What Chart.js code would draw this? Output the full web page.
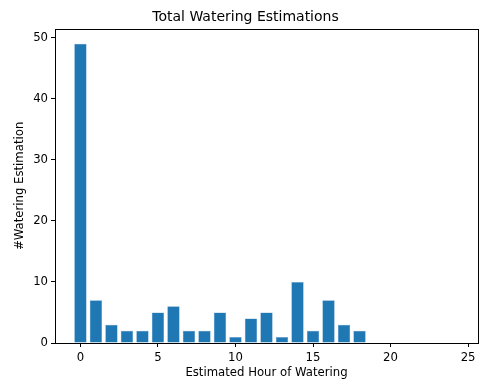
<!DOCTYPE html>
<html>
<head>
<meta charset="utf-8">
<script src="https://cdn.jsdelivr.net/npm/chart.js@4"></script>
<style>
html,body{margin:0;padding:0;background:#fff;}
#wrap{width:484px;height:385px;position:relative;}
</style>
</head>
<body>
<div id="wrap"><canvas id="c" width="484" height="385"></canvas></div>
<script>
const hours = [0,1,2,3,4,5,6,7,8,9,10,11,12,13,14,15,16,17,18,19,20,21,22,23,24];
const counts = [49,7,3,2,2,5,6,2,2,5,1,4,5,1,10,2,7,3,2,0,0,0,0,0,0];
const xTicks = [0,5,10,15,20,25];
const yTicks = [0,10,20,30,40,50];
const titleText = 'Total Watering Estimations';
const xLabel = 'Estimated Hour of Watering';
const yLabel = '#Watering Estimation';

const FONT = 'DejaVu Sans';
const frame = {
  id:'frame',
  afterDraw(chart){
    const a = chart.chartArea, ctx = chart.ctx;
    ctx.save();
    ctx.strokeStyle = '#000';
    ctx.lineWidth = 1;
    ctx.strokeRect(Math.round(a.left)+0.5, Math.round(a.top)+0.5, Math.round(a.right-a.left), Math.round(a.bottom-a.top));
    ctx.restore();
  }
};

new Chart(document.getElementById('c'), {
  type:'bar',
  data:{
    datasets:[{
      data: hours.map((h,i)=>({x:h, y:counts[i]})),
      backgroundColor:'#1f77b4',
      borderColor:'#6fa6cf',
      borderWidth:0.5,
      barPercentage:0.8,
      categoryPercentage:1.0
    }]
  },
  options:{
    responsive:false,
    animation:false,
    layout:{padding:{top:0,right:6,bottom:0,left:13}},
    plugins:{
      legend:{display:false},
      tooltip:{enabled:false},
      title:{display:true,text:titleText,color:'#000',font:{family:FONT,size:14,weight:'normal'},padding:{top:9,bottom:3}}
    },
    scales:{
      x:{
        type:'linear',
        offset:false,
        min:-1.64, max:25.64,
        afterBuildTicks(s){ s.ticks = xTicks.map(v=>({value:v})); },
        afterFit(s){ s.height = 42; },
        grid:{offset:false, drawOnChartArea:false, drawTicks:true, tickLength:4, color:'#000'},
        border:{display:false},
        ticks:{color:'#000', font:{family:FONT,size:11.7}, padding:4, maxRotation:0, autoSkip:false},
        title:{display:true,text:xLabel,color:'#000',font:{family:FONT,size:11.7},padding:{top:1,bottom:5}}
      },
      y:{
        min:0, max:51.45,
        afterBuildTicks(s){ s.ticks = yTicks.map(v=>({value:v})); },
        afterFit(s){ s.width = 42; },
        grid:{drawOnChartArea:false, drawTicks:true, tickLength:4, color:'#000'},
        border:{display:false},
        ticks:{color:'#000', font:{family:FONT,size:11.7}, padding:3},
        title:{display:true,text:yLabel,color:'#000',font:{family:FONT,size:11.7},padding:{top:0,bottom:4}}
      }
    }
  },
  plugins:[frame]
});
</script>
</body>
</html>
